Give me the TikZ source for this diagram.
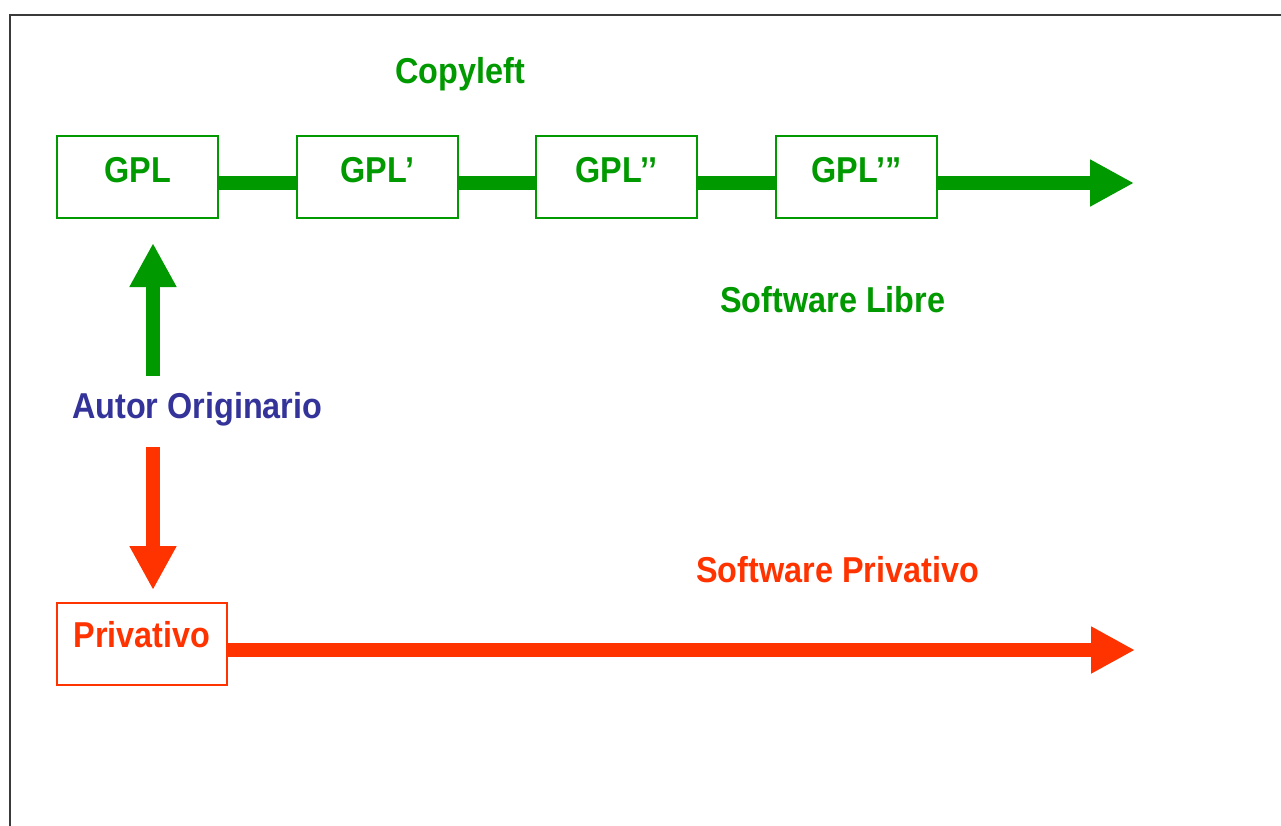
\documentclass[tikz,border=0pt]{standalone}
\usepackage{fontspec}
\setmainfont{Liberation Sans}[FakeStretch=0.9]
\usetikzlibrary{arrows.meta}
\definecolor{gplgreen}{HTML}{009900}
\definecolor{privred}{HTML}{FF3300}
\definecolor{autorblue}{HTML}{333399}
\definecolor{framegray}{HTML}{3A3A3A}
\tikzset{
  txt/.style={font=\bfseries\fontsize{36}{42}\selectfont, inner sep=0pt},
  gplbox/.style={txt, draw=gplgreen, text=gplgreen, line width=2pt, minimum width=161pt,
                 text height=46pt, text depth=36pt, anchor=north west},
  privbox/.style={txt, draw=privred, text=privred, line width=2pt, minimum width=170pt,
                 text height=44pt, text depth=38pt, anchor=north west},
  gline/.style={draw=gplgreen, line width=14pt},
  rline/.style={draw=privred, line width=14pt},
  bighead/.style={-{Triangle[length=44pt,width=44pt]}},
}
\begin{document}
\begin{tikzpicture}[x=1pt,y=-1pt]
\useasboundingbox (0,0) rectangle (1281,825);
\fill[white] (0,0) rectangle (1281,825);
\draw[framegray, line width=2pt] (1290,15) -- (10,15) -- (10,830);

% top row
\node[gplbox] (gpl) at (56,135) {GPL};
\node[gplbox] (gpla) at (296,135) {GPL’};
\node[gplbox] (gplb) at (535,135) {GPL’’};
\node[gplbox] (gplc) at (775,135) {GPL’”};
\coordinate (gtip) at (1134,183);

\draw[gline] ([yshift=-6pt]gpl.east) -- ([yshift=-6pt]gpla.west);
\draw[gline] ([yshift=-6pt]gpla.east) -- ([yshift=-6pt]gplb.west);
\draw[gline] ([yshift=-6pt]gplb.east) -- ([yshift=-6pt]gplc.west);
\draw[gline, bighead] ([yshift=-6pt]gplc.east) -- (gtip);

% labels
\node[txt, text=gplgreen, anchor=base west] (copyleft) at (395,83) {Copyleft};
\node[txt, text=gplgreen, anchor=base west] (libre) at (720,312) {Software Libre};
\node[txt, text=autorblue, anchor=base west] (autor) at (72,418) {Autor Originario};
\node[txt, text=privred, anchor=base west] (privsw) at (696,582) {Software Privativo};

% vertical arrows
\coordinate (upstart) at (153,376);
\coordinate (uptip) at (153,243);
\draw[gline, bighead] (upstart) -- (uptip);
\coordinate (downstart) at (153,447);
\coordinate (downtip) at (153,590);
\draw[rline, bighead] (downstart) -- (downtip);

% bottom row
\node[privbox] (priv) at (56,602) {Privativo};
\coordinate (rtip) at (1135,650);
\draw[rline, bighead] ([yshift=-6pt]priv.east) -- (rtip);
\end{tikzpicture}
\end{document}
